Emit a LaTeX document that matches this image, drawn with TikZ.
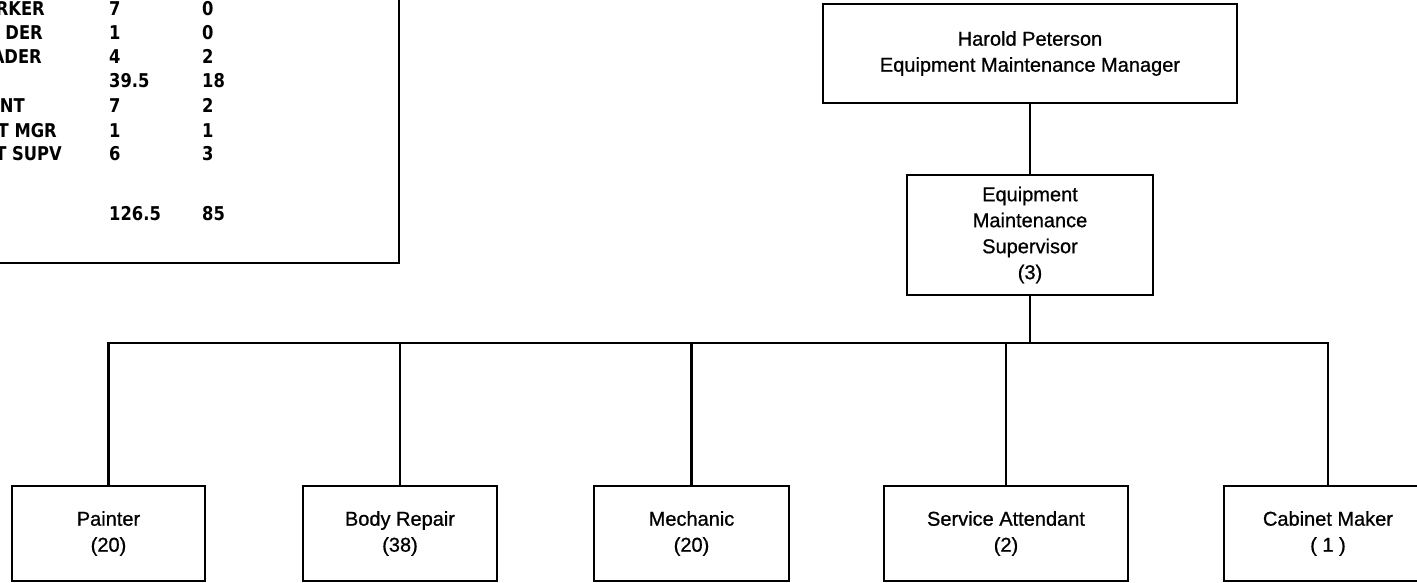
\documentclass[tikz,border=0pt]{standalone}
\usepackage{fontspec}
\setmainfont{Liberation Sans}[FakeBold=0.8]
\newfontfamily\tblfont{DejaVu Sans}[FakeStretch=0.86]
\begin{document}
\begin{tikzpicture}[x=1pt,y=-1pt,
  box/.style={draw, line width=2.6pt, inner sep=0pt, align=center,
    font=\fontsize{20}{26}\selectfont},
  link/.style={line width=2.6pt},
  tbl/.style={inner sep=0pt, font=\tblfont\bfseries\fontsize{19}{22}\selectfont}]
\useasboundingbox (0,0) rectangle (1417,582);
% table (partly cut off)
\draw[link] (-10,263) -- (399,263) -- (399,-10);
\foreach \n/\lab/\rx/\by/\a/\b in {r1/RKER/45/15/7/0, r2/DER/43/39/1/0, r3/ADER/42/63/4/2,
  r4//0/87/39.5/18, r5/NT/25/112/7/2, r6/T MGR/57/137/1/1, r7/T SUPV/62/160/6/3, r8//0/220/126.5/85}{
  \node[tbl, anchor=base east] (\n l) at (\rx,\by) {\lab};
  \node[tbl, anchor=base west] (\n a) at (109,\by) {\a};
  \node[tbl, anchor=base west] (\n b) at (202,\by) {\b};
}
% org chart
\node[box, minimum width=414pt, minimum height=99pt] (top) at (1030,53.5)
  {Harold Peterson\\Equipment Maintenance Manager};
\node[box, minimum width=246pt, minimum height=120pt] (sup) at (1030,235)
  {Equipment\\Maintenance\\Supervisor\\(3)};
\node[box, minimum width=193pt, minimum height=95pt] (painter) at (108.5,533.5) {Painter\\(20)};
\node[box, minimum width=194pt, minimum height=95pt] (body) at (400,533.5) {Body Repair\\(38)};
\node[box, minimum width=195pt, minimum height=95pt] (mech) at (691.5,533.5) {Mechanic\\(20)};
\node[box, minimum width=244pt, minimum height=95pt] (serv) at (1006,533.5) {Service Attendant\\(2)};
\node[box, minimum width=208pt, minimum height=95pt] (cab) at (1328,533.5) {Cabinet Maker\\( 1 )};
\coordinate (bus) at (0,343);
\draw[link] (top) -- (sup);
\draw[link] (sup.south) -- (sup.south |- bus);
\draw[link] (painter.north) -- (painter.north |- bus) -- (cab.north |- bus) -- (cab.north);
\foreach \x in {body,mech,serv}{\draw[link] (\x.north) -- (\x.north |- bus);}
\end{tikzpicture}
\end{document}
